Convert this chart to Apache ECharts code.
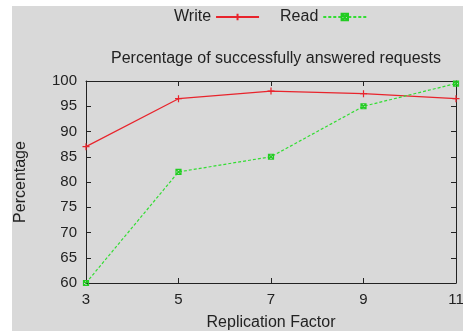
<!DOCTYPE html>
<html>
<head>
<meta charset="utf-8">
<script src="https://cdn.jsdelivr.net/npm/echarts@6/dist/echarts.min.js"></script>
<style>
html,body{margin:0;padding:0;background:#fff;}
#c{width:463px;height:331px;}
</style>
</head>
<body>
<div id="c"></div>
<script>
const categories = ['3', '5', '7', '9', '11'];
const writeValues = [87, 96.5, 98, 97.5, 96.5];
const readValues = [60, 82, 85, 95, 99.5];
const yTicks = [60, 65, 70, 75, 80, 85, 90, 95, 100];

const chart = echarts.init(document.getElementById('c'), null, {renderer: 'canvas'});
const FONT = 'Liberation Sans, Arial, sans-serif';
const TXT = '#222';
const plus = 'path://M0,5L10,5M5,0L5,10';
const cross = 'path://M0,0L10,10M10,0L0,10M0,0L10,0L10,10L0,10Z';

const axisLine = {show: true, lineStyle: {color: '#222', width: 1}};
chart.setOption({
  animation: false,
  backgroundColor: '#fff',
  graphic: [{
    type: 'rect', left: 12, top: 6, z: -10,
    shape: {width: 451, height: 325},
    style: {fill: '#d9d9d9'}
  }],
  title: {
    text: 'Percentage of successfully answered requests',
    left: 271, textAlign: 'center', top: 46,
    textStyle: {fontFamily: FONT, fontSize: 16, fontWeight: 'normal', color: TXT}
  },
  legend: {
    left: 169, top: 4, align: 'right', itemWidth: 43, itemHeight: 8, itemGap: 20,
    textStyle: {fontFamily: FONT, fontSize: 16, color: TXT},
    data: ['Write', 'Read']
  },
  grid: {left: 86, right: 7, top: 81, bottom: 48, containLabel: false, outerBoundsMode: 'none'},
  xAxis: [{
    type: 'category', data: categories, boundaryGap: false, position: 'bottom',
    axisLine: axisLine,
    axisTick: {show: true, inside: true, length: 5, lineStyle: {color: '#222'}},
    axisLabel: {fontFamily: FONT, fontSize: 15, color: TXT, margin: 9},
    splitLine: {show: false},
    name: 'Replication Factor', nameLocation: 'middle', nameGap: 32,
    nameTextStyle: {fontFamily: FONT, fontSize: 16, color: TXT}
  }, {
    type: 'category', data: categories, boundaryGap: false, position: 'top',
    axisLine: axisLine,
    axisTick: {show: true, inside: true, length: 5, lineStyle: {color: '#222'}},
    axisLabel: {show: false}, splitLine: {show: false}
  }],
  yAxis: [{
    type: 'value', min: 60, max: 100, interval: 5, position: 'left',
    axisLine: axisLine,
    axisTick: {show: true, inside: true, length: 5, lineStyle: {color: '#222'}},
    axisLabel: {fontFamily: FONT, fontSize: 15, color: TXT, margin: 9},
    splitLine: {show: false},
    name: 'Percentage', nameLocation: 'middle', nameGap: 57, nameRotate: 90,
    nameTextStyle: {fontFamily: FONT, fontSize: 16, color: TXT}
  }, {
    type: 'value', min: 60, max: 100, interval: 5, position: 'right',
    axisLine: axisLine,
    axisTick: {show: true, inside: true, length: 5, lineStyle: {color: '#222'}},
    axisLabel: {show: false}, splitLine: {show: false}
  }],
  series: [{
    name: 'Write', type: 'line', data: writeValues, clip: false,
    symbol: plus, symbolSize: 7, showSymbol: true,
    lineStyle: {color: '#e8242c', width: 1.2},
    itemStyle: {color: '#e8242c', borderColor: '#e8242c', borderWidth: 1.2}
  }, {
    name: 'Read', type: 'line', data: readValues, clip: false,
    symbol: cross, symbolSize: 5, showSymbol: true,
    lineStyle: {color: '#33dd33', width: 1.2, type: [3, 2]},
    itemStyle: {color: 'rgba(0,0,0,0)', borderColor: '#22cc22', borderWidth: 1.2}
  }]
});
</script>
</body>
</html>
